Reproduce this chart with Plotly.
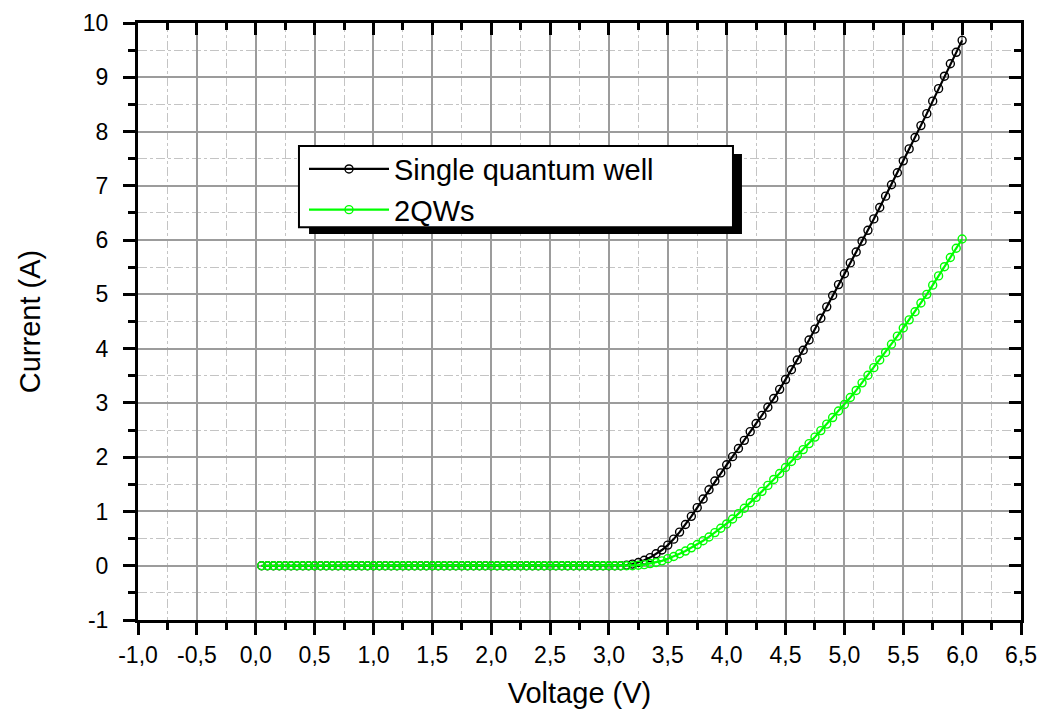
import plotly.graph_objects as go

# Forward bias sweep (V)
voltage = [
    0.05, 0.10, 0.15, 0.20, 0.25, 0.30, 0.35, 0.40, 0.45, 0.50,
    0.55, 0.60, 0.65, 0.70, 0.75, 0.80, 0.85, 0.90, 0.95, 1.00,
    1.05, 1.10, 1.15, 1.20, 1.25, 1.30, 1.35, 1.40, 1.45, 1.50,
    1.55, 1.60, 1.65, 1.70, 1.75, 1.80, 1.85, 1.90, 1.95, 2.00,
    2.05, 2.10, 2.15, 2.20, 2.25, 2.30, 2.35, 2.40, 2.45, 2.50,
    2.55, 2.60, 2.65, 2.70, 2.75, 2.80, 2.85, 2.90, 2.95, 3.00,
    3.05, 3.10, 3.15, 3.20, 3.25, 3.30, 3.35, 3.40, 3.45, 3.50,
    3.55, 3.60, 3.65, 3.70, 3.75, 3.80, 3.85, 3.90, 3.95, 4.00,
    4.05, 4.10, 4.15, 4.20, 4.25, 4.30, 4.35, 4.40, 4.45, 4.50,
    4.55, 4.60, 4.65, 4.70, 4.75, 4.80, 4.85, 4.90, 4.95, 5.00,
    5.05, 5.10, 5.15, 5.20, 5.25, 5.30, 5.35, 5.40, 5.45, 5.50,
    5.55, 5.60, 5.65, 5.70, 5.75, 5.80, 5.85, 5.90, 5.95, 6.00,
]

# Current of the single quantum well device (A)
current_sqw = [
    0.00, 0.00, 0.00, 0.00, 0.00, 0.00, 0.00, 0.00, 0.00, 0.00,
    0.00, 0.00, 0.00, 0.00, 0.00, 0.00, 0.00, 0.00, 0.00, 0.00,
    0.00, 0.00, 0.00, 0.00, 0.00, 0.00, 0.00, 0.00, 0.00, 0.00,
    0.00, 0.00, 0.00, 0.00, 0.00, 0.00, 0.00, 0.00, 0.00, 0.00,
    0.00, 0.00, 0.00, 0.00, 0.00, 0.00, 0.00, 0.00, 0.00, 0.00,
    0.00, 0.00, 0.00, 0.00, 0.00, 0.00, 0.00, 0.00, 0.00, 0.00,
    0.00, 0.00, 0.01, 0.03, 0.06, 0.10, 0.15, 0.22, 0.29, 0.38,
    0.49, 0.62, 0.76, 0.91, 1.07, 1.23, 1.40, 1.56, 1.71, 1.86,
    2.01, 2.16, 2.31, 2.47, 2.62, 2.77, 2.92, 3.08, 3.25, 3.43,
    3.61, 3.79, 3.97, 4.16, 4.36, 4.56, 4.77, 4.98, 5.18, 5.38,
    5.58, 5.78, 5.98, 6.18, 6.39, 6.60, 6.81, 7.02, 7.24, 7.46,
    7.68, 7.89, 8.11, 8.33, 8.56, 8.79, 9.02, 9.25, 9.46, 9.68,
]

# Current of the double quantum well device (A)
current_2qw = [
    0.00, 0.00, 0.00, 0.00, 0.00, 0.00, 0.00, 0.00, 0.00, 0.00,
    0.00, 0.00, 0.00, 0.00, 0.00, 0.00, 0.00, 0.00, 0.00, 0.00,
    0.00, 0.00, 0.00, 0.00, 0.00, 0.00, 0.00, 0.00, 0.00, 0.00,
    0.00, 0.00, 0.00, 0.00, 0.00, 0.00, 0.00, 0.00, 0.00, 0.00,
    0.00, 0.00, 0.00, 0.00, 0.00, 0.00, 0.00, 0.00, 0.00, 0.00,
    0.00, 0.00, 0.00, 0.00, 0.00, 0.00, 0.00, 0.00, 0.00, 0.00,
    0.00, 0.00, 0.00, 0.00, 0.01, 0.02, 0.04, 0.06, 0.09, 0.13,
    0.17, 0.22, 0.27, 0.33, 0.39, 0.46, 0.53, 0.61, 0.69, 0.77,
    0.86, 0.96, 1.06, 1.16, 1.26, 1.37, 1.48, 1.59, 1.70, 1.81,
    1.92, 2.03, 2.14, 2.25, 2.37, 2.49, 2.61, 2.73, 2.85, 2.97,
    3.10, 3.23, 3.37, 3.51, 3.65, 3.79, 3.93, 4.08, 4.23, 4.38,
    4.53, 4.68, 4.84, 5.00, 5.17, 5.34, 5.51, 5.68, 5.85, 6.02,
]

x_tickvals = [-1.0, -0.5, 0.0, 0.5, 1.0, 1.5, 2.0, 2.5, 3.0, 3.5, 4.0, 4.5, 5.0, 5.5, 6.0, 6.5]
x_ticktext = ["-1,0", "-0,5", "0,0", "0,5", "1,0", "1,5", "2,0", "2,5",
              "3,0", "3,5", "4,0", "4,5", "5,0", "5,5", "6,0", "6,5"]
y_tickvals = [-1, 0, 1, 2, 3, 4, 5, 6, 7, 8, 9, 10]
y_ticktext = ["-1", "0", "1", "2", "3", "4", "5", "6", "7", "8", "9", "10"]

FONT = "Liberation Sans, Arial, sans-serif"
X_RANGE = [-1.0, 6.5]
Y_RANGE = [-1.0, 10.0]

fig = go.Figure()

fig.add_trace(go.Scatter(
    x=voltage, y=current_sqw, name="Single quantum well",
    mode="lines+markers",
    line=dict(color="black", width=2.2),
    marker=dict(symbol="circle-open", size=8, color="black", line=dict(width=1.4)),
))
# second series lives on the mirrored top/right axes (same ranges), which
# also makes those frame axes render with their inward ticks
fig.add_trace(go.Scatter(
    x=voltage, y=current_2qw, name="2QWs",
    xaxis="x2", yaxis="y2",
    mode="lines+markers",
    line=dict(color="#00ff00", width=2.2),
    marker=dict(symbol="circle-open", size=8, color="#00ff00", line=dict(width=1.4)),
))

major_grid = "#9c9c9c"
minor_grid = "#c4c4c4"

fig.update_layout(
    width=1046, height=711,
    margin=dict(l=138, r=25, t=23, b=91),
    paper_bgcolor="white", plot_bgcolor="white",
    font=dict(family=FONT, color="black"),
    showlegend=True,
    legend=dict(
        x=0.188, y=0.798, xanchor="left", yanchor="top",
        bgcolor="rgba(0,0,0,0)", borderwidth=0,
        font=dict(size=29, family=FONT, color="black"),
        itemwidth=80, tracegroupgap=0,
    ),
    xaxis=dict(
        range=X_RANGE, tickvals=x_tickvals, ticktext=x_ticktext,
        automargin=False,
        showline=True, linecolor="black", linewidth=3,
        ticks="outside", ticklen=12, tickwidth=3, tickcolor="black",
        tickfont=dict(size=23, family=FONT),
        showgrid=True, gridcolor=major_grid, gridwidth=2, zeroline=False,
        minor=dict(dtick=0.25, tick0=0, ticks="outside", ticklen=7, tickwidth=3,
                   tickcolor="black", showgrid=True, gridcolor=minor_grid,
                   griddash="dashdot", gridwidth=1),
        title=dict(text="Voltage (V)", font=dict(size=29, family=FONT), standoff=17),
    ),
    yaxis=dict(
        range=Y_RANGE, tickvals=y_tickvals, ticktext=y_ticktext,
        automargin=False,
        showline=True, linecolor="black", linewidth=3,
        ticks="outside", ticklen=12, tickwidth=3, tickcolor="black",
        tickfont=dict(size=23, family=FONT), ticklabelstandoff=10,
        showgrid=True, gridcolor=major_grid, gridwidth=2, zeroline=False,
        minor=dict(dtick=0.5, tick0=0, ticks="outside", ticklen=7, tickwidth=3,
                   tickcolor="black", showgrid=True, gridcolor=minor_grid,
                   griddash="dashdot", gridwidth=1),
        title=dict(text="Current (A)", font=dict(size=29, family=FONT), standoff=34),
    ),
    # mirrored frame with inward ticks on top and right
    xaxis2=dict(
        overlaying="x", side="top", range=X_RANGE, tickvals=x_tickvals,
        automargin=False,
        showticklabels=False, showline=True, linecolor="black", linewidth=3,
        ticks="inside", ticklen=12, tickwidth=3, tickcolor="black",
        showgrid=False, zeroline=False,
        minor=dict(dtick=0.25, tick0=0, ticks="inside", ticklen=7, tickwidth=3,
                   tickcolor="black", showgrid=False),
    ),
    yaxis2=dict(
        overlaying="y", side="right", range=Y_RANGE, tickvals=y_tickvals,
        automargin=False,
        showticklabels=False, showline=True, linecolor="black", linewidth=3,
        ticks="inside", ticklen=12, tickwidth=3, tickcolor="black",
        showgrid=False, zeroline=False,
        minor=dict(dtick=0.5, tick0=0, ticks="inside", ticklen=7, tickwidth=3,
                   tickcolor="black", showgrid=False),
    ),
)

# legend frame: drop shadow, then white box with black border
fig.add_shape(
    type="rect", xref="paper", yref="paper",
    x0=0.1937, x1=0.684, y0=0.6466, y1=0.7806,
    fillcolor="black", line=dict(width=0), layer="above",
)
fig.add_shape(
    type="rect", xref="paper", yref="paper",
    x0=0.1823, x1=0.6738, y0=0.658, y1=0.794,
    fillcolor="white", line=dict(color="black", width=2), layer="above",
)

fig.write_html("out.html")
